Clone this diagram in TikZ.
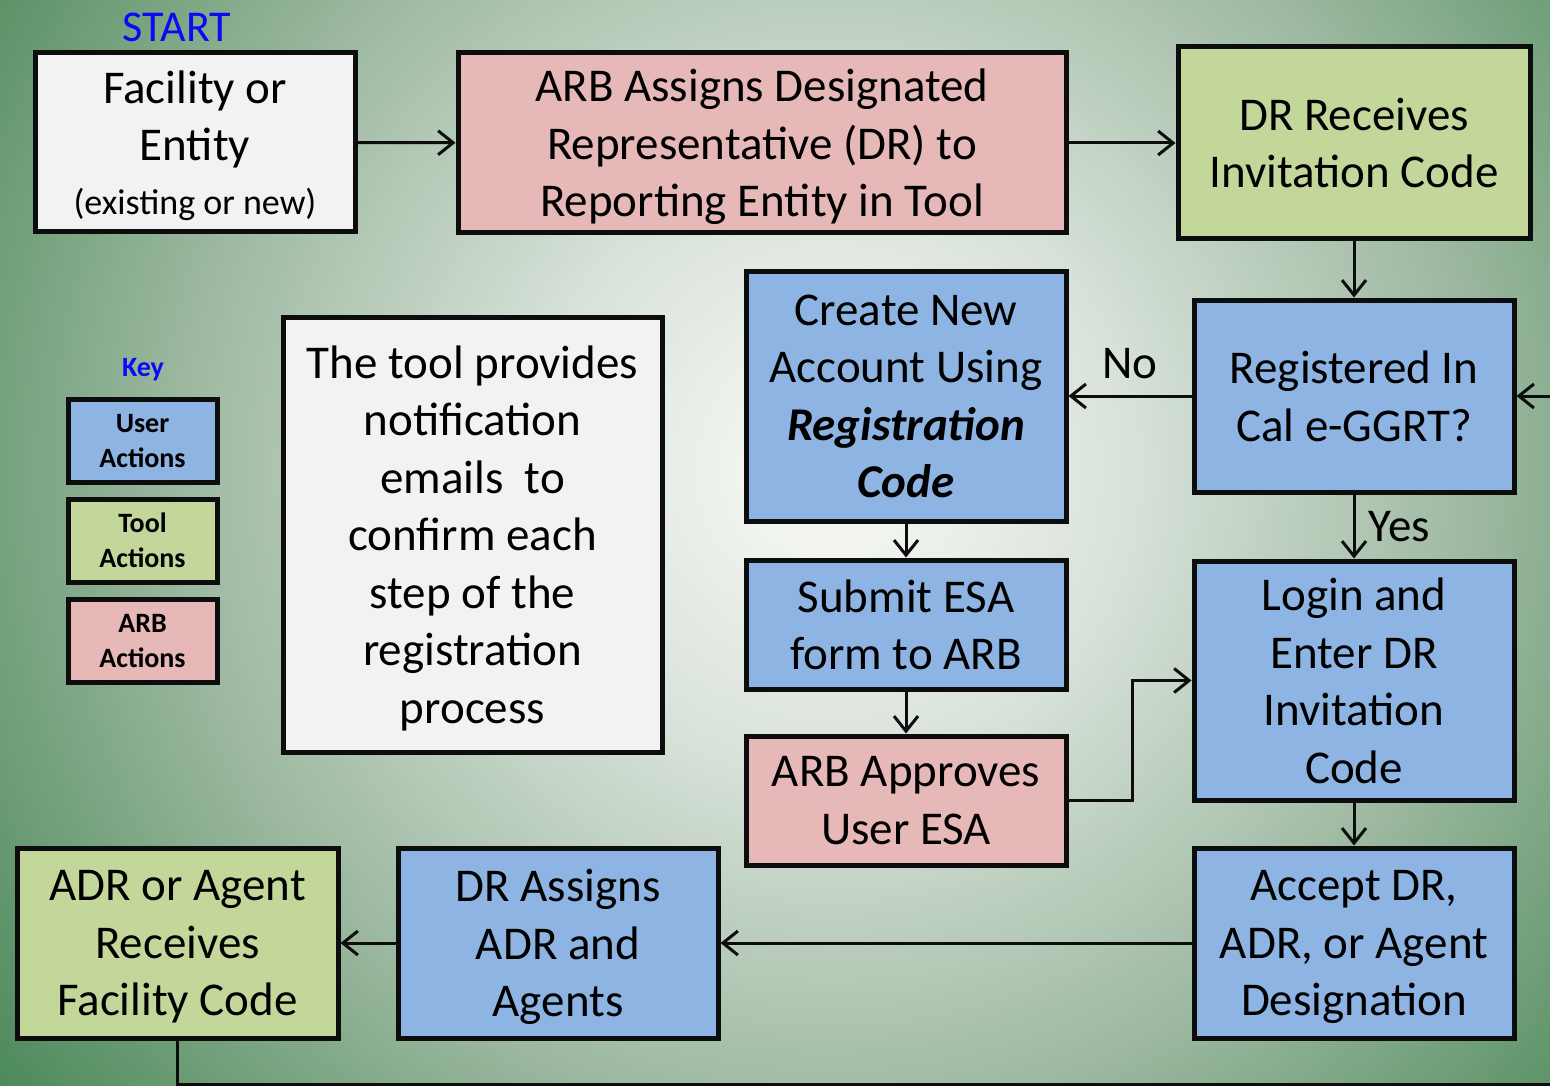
\documentclass[tikz,border=0pt]{standalone}
\usepackage{fontspec}
\setmainfont{Carlito}
\usetikzlibrary{arrows.meta}
\definecolor{userblue}{HTML}{8DB4E2}
\definecolor{toolgreen}{HTML}{C4D79B}
\definecolor{arbpink}{HTML}{E6B8B7}
\definecolor{notewhite}{HTML}{F2F2F2}
\definecolor{boxline}{HTML}{0D0D0D}
\definecolor{keyblue}{HTML}{0A0AF5}
\definecolor{bga}{HTML}{F4F6F2}
\definecolor{bgb}{HTML}{F1F4EF}
\definecolor{bgc}{HTML}{D8E2DA}
\definecolor{bgd}{HTML}{B6CAB8}
\definecolor{bge}{HTML}{9CB8A0}
\definecolor{bgf}{HTML}{7CA684}
\definecolor{bgg}{HTML}{62966C}
\definecolor{bgh}{HTML}{4A8858}
\pgfdeclareradialshading{bgglow}{\pgfpoint{0bp}{0bp}}{color(0bp)=(bga); color(1.9bp)=(bgb); color(7.1bp)=(bgc); color(11.9bp)=(bgd); color(15.5bp)=(bge); color(19bp)=(bgf); color(22.1bp)=(bgg); color(25bp)=(bgh); color(50bp)=(bgh)}
\tikzset{
  box/.style={draw=boxline, line width=5pt, align=center, inner sep=0pt, text depth=0pt, font=\fontsize{47}{57.5}\selectfont},
  userbox/.style={box, fill=userblue},
  toolbox/.style={box, fill=toolgreen},
  arbbox/.style={box, fill=arbpink},
  notebox/.style={box, fill=notewhite},
  keybox/.style={box, minimum width=149, minimum height=83, font=\bfseries\fontsize{28}{35}\selectfont},
  arr/.style={-{Straight Barb[length=15pt,width=24pt]}, line width=3pt, draw=boxline},
  lbl/.style={font=\fontsize{47}{57.5}\selectfont, inner sep=4pt}
}
\begin{document}
\begin{tikzpicture}[x=1pt, y=-1pt]
  \useasboundingbox (0,0) rectangle (1550,1086);
  \begin{scope}
    \clip (0,0) rectangle (1550,1086);
    \fill[bgh] (0,0) rectangle (1550,1086);
    \shade[shading=bgglow] (830,470) circle (1050);
  \end{scope}
  % top row
  \node[font=\fontsize{44}{52}\selectfont, text=keyblue] (start) at (177,27) {START};
  \node[notebox, minimum width=320, minimum height=179] (fac) at (195,142.5)
    {Facility or\\Entity\\[-4pt]{\fontsize{36}{44}\selectfont(existing or new)}};
  \node[arbbox, minimum width=608, minimum height=180] (arbassign) at (762,143)
    {ARB Assigns Designated\\Representative (DR) to\\Reporting Entity in Tool};
  \node[toolbox, minimum width=352, minimum height=192] (drrec) at (1354,143)
    {DR Receives\\Invitation Code};
  % key
  \node[font=\bfseries\fontsize{28}{35}\selectfont, text=keyblue] (keylbl) at (143,370) {Key};
  \node[keybox, fill=userblue] (keyuser) at (142.5,440.5) {User\\Actions};
  \node[keybox, fill=toolgreen] (keytool) at (142.5,540.5) {Tool\\Actions};
  \node[keybox, fill=arbpink] (keyarb) at (142.5,640.5) {ARB\\Actions};
  \node[notebox, minimum width=379, minimum height=435] (note) at (472.5,534.5)
    {The tool provides\\notification\\emails~ to\\confirm each\\step of the\\registration\\process};
  % middle
  \node[userbox, minimum width=320, minimum height=192] (reg) at (1354,396)
    {Registered In\\Cal e-GGRT?};
  \node[userbox, minimum width=320, minimum height=250] (create) at (906,396)
    {Create New\\Account Using\\\textbf{\textit{Registration}}\\\textbf{\textit{Code}}};
  \node[userbox, minimum width=320, minimum height=129] (submit) at (906,624.5)
    {Submit ESA\\form to ARB};
  \node[arbbox, minimum width=320, minimum height=129] (approve) at (906,800.5)
    {ARB Approves\\User ESA};
  \node[userbox, minimum width=320, minimum height=239] (login) at (1354,680.5)
    {Login and\\Enter DR\\Invitation\\Code};
  % bottom row
  \node[userbox, minimum width=320, minimum height=190] (accept) at (1354,943)
    {Accept DR,\\ADR, or Agent\\Designation};
  \node[userbox, minimum width=320, minimum height=190] (assign) at (558,943)
    {DR Assigns\\ADR and\\Agents};
  \node[toolbox, minimum width=321, minimum height=190] (adrrec) at (177.5,943)
    {ADR or Agent\\Receives\\Facility Code};
  \coordinate (loopa) at (177.5,1084.5);
  \coordinate (loopb) at (1556,1084.5);
  % connectors
  \draw[arr] (fac) -- (arbassign);
  \draw[arr] (arbassign) -- (drrec.west |- arbassign);
  \draw[arr] (drrec) -- (reg);
  \draw[arr] (reg) -- node[lbl, above=12pt] {No} (create);
  \draw[arr] (reg) -- node[lbl, right=9pt] {Yes} (login);
  \draw[arr] (create) -- (submit);
  \draw[arr] (submit) -- (approve);
  \draw[arr] (approve.east) -- ++(64,0) |- (login.west);
  \draw[arr] (login) -- (accept);
  \draw[arr] (accept) -- (assign);
  \draw[arr] (assign) -- (adrrec);
  \draw[arr] (adrrec.south) -- (loopa) -- (loopb) |- (reg.east);
\end{tikzpicture}
\end{document}
